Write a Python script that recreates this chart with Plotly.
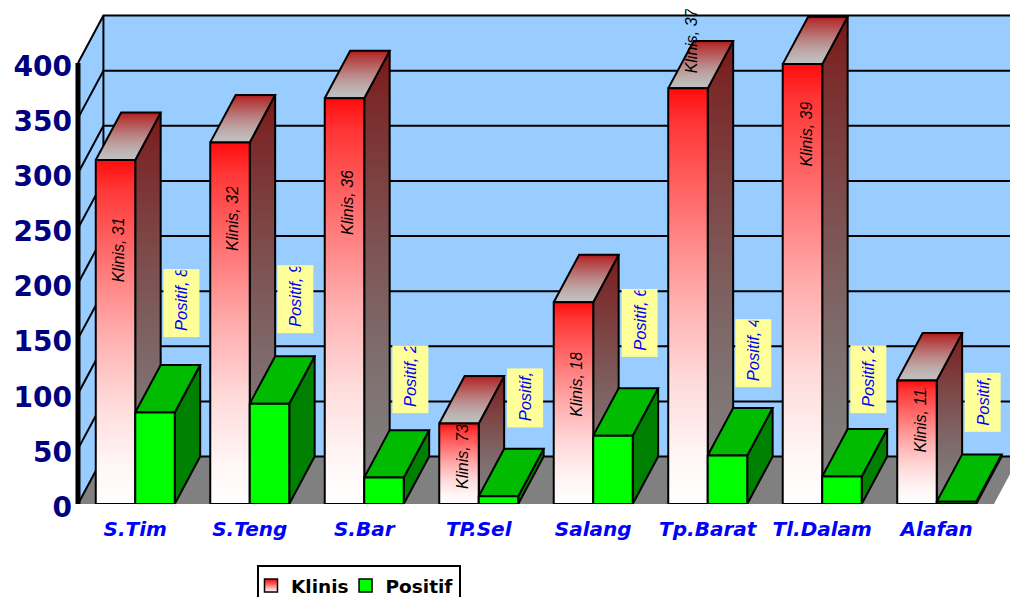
import plotly.graph_objects as go

# Data
categories = ["S.Tim", "S.Teng", "S.Bar", "TP.Sel", "Salang", "Tp.Barat", "Tl.Dalam", "Alafan"]
klinis = [312, 328, 368, 73, 183, 377, 399, 112]
positif = [83, 91, 24, 7, 62, 44, 25, 2]
y_ticks = [0, 50, 100, 150, 200, 250, 300, 350, 400]

# Where the rotated data labels sit, in axis units
klinis_label_at = [230, 259, 273, 43, 108, 420, 335, 76]
positif_label_at = [182, 186, 113, 96, 164, 137, 113, 92]

# Fake 3D depth, in axis units
DEPTH_X = 0.222
DEPTH_Y = 43
BAR_W = 0.345
X_MIN = -5 / 114.5
X_MAX = 8.14
Y_MAX = 457.14

# Shape of the Excel style fade: (height from the top, share of the lower colour)
FADE = [(0, 0), (0.08, 0.17), (0.31, 0.44), (0.5, 0.66), (0.71, 0.85), (0.88, 0.96), (1, 1)]


def fade(top_rgb, bottom_rgb):
    scale = []
    for t, f in reversed(FADE):
        rgb = [round(a + (b - a) * f) for a, b in zip(top_rgb, bottom_rgb)]
        scale.append([1 - t, f"rgb({rgb[0]},{rgb[1]},{rgb[2]})"])
    return scale


RED_FRONT = fade((255, 12, 12), (255, 255, 255))
RED_SIDE = fade((122, 20, 20), (128, 128, 128))
RED_TOP = fade((176, 22, 22), (192, 192, 192))


def poly(xs, ys, fill, line_width=2):
    trace = dict(x=xs + xs[:1], y=ys + ys[:1], mode="lines", fill="toself",
                 line=dict(color="black", width=line_width), cliponaxis=False,
                 showlegend=False, hoverinfo="skip")
    if isinstance(fill, list):
        trace["fillgradient"] = dict(type="vertical", colorscale=fill)
    else:
        trace["fillcolor"] = fill
    return go.Scatter(**trace)


def add_bar(fig, x0, value, front, side, top):
    x1 = x0 + BAR_W
    # side, then top, then the front face
    fig.add_trace(poly([x1, x1 + DEPTH_X, x1 + DEPTH_X, x1], [0, DEPTH_Y, value + DEPTH_Y, value], side))
    fig.add_trace(poly([x0, x1, x1 + DEPTH_X, x0 + DEPTH_X], [value, value, value + DEPTH_Y, value + DEPTH_Y], top))
    fig.add_trace(poly([x0, x1, x1, x0], [0, 0, value, value], front))


fig = go.Figure()

# Walls and floor
fig.add_trace(poly([DEPTH_X, 8 + DEPTH_X, 8 + DEPTH_X, DEPTH_X], [DEPTH_Y, DEPTH_Y, 400 + DEPTH_Y, 400 + DEPTH_Y], "#99CCFF", 0))
fig.add_trace(poly([0, DEPTH_X, DEPTH_X, 0], [0, DEPTH_Y, 400 + DEPTH_Y, 400], "#99CCFF", 0))
fig.add_trace(poly([0, 8, 8 + DEPTH_X, DEPTH_X], [0, 0, DEPTH_Y, DEPTH_Y], "#808080", 0))

# Gridlines run along the left wall and across the back wall
for v in y_ticks:
    fig.add_trace(go.Scatter(x=[0, DEPTH_X, 8 + DEPTH_X], y=[v, v + DEPTH_Y, v + DEPTH_Y], mode="lines",
                             line=dict(color="black", width=2), cliponaxis=False, showlegend=False, hoverinfo="skip"))
fig.add_trace(go.Scatter(x=[DEPTH_X, DEPTH_X], y=[DEPTH_Y, 400 + DEPTH_Y], mode="lines",
                         line=dict(color="black", width=2), cliponaxis=False, showlegend=False, hoverinfo="skip"))
fig.add_trace(go.Scatter(x=[0, 0], y=[0, 400], mode="lines",
                         line=dict(color="black", width=5), cliponaxis=False, showlegend=False, hoverinfo="skip"))

# Bars, back to front
for i in range(len(categories)):
    add_bar(fig, i + 0.5 - BAR_W, klinis[i], RED_FRONT, RED_SIDE, RED_TOP)
    add_bar(fig, i + 0.5, positif[i], "#00FF00", "#008000", "#00BB00")

# Legend entries only
fig.add_trace(go.Scatter(x=[None], y=[None], mode="markers", name="Klinis",
                         marker=dict(symbol="square", size=13, color="#FF0000",
                                     gradient=dict(type="vertical", color="#FFFFFF"),
                                     line=dict(color="black", width=1.5))))
fig.add_trace(go.Scatter(x=[None], y=[None], mode="markers", name="Positif",
                         marker=dict(symbol="square", size=13, color="#00FF00",
                                     line=dict(color="black", width=1.5))))

# Rotated data labels, clipped by their boxes
for i in range(len(categories)):
    fig.add_annotation(x=i + 0.5 - BAR_W / 2 + 0.03, y=klinis_label_at[i], text=f"Klinis, {klinis[i]}",
                       showarrow=False, textangle=-90, width=64, height=20, align="left",
                       font=dict(family="Liberation Sans", size=16, color="black", style="italic"))
    fig.add_annotation(x=i + 0.5 + BAR_W + DEPTH_X - 0.165, y=positif_label_at[i], text=f"\u00a0Positif, {positif[i]}",
                       showarrow=False, textangle=-90, width=65 if positif[i] >= 10 else 56, height=33, align="left",
                       bgcolor="#FFFF99",
                       font=dict(family="Liberation Sans", size=16.5, color="#0000FF", style="italic"))

fig.update_xaxes(range=[X_MIN, X_MAX], tickvals=[i + 0.5 for i in range(len(categories))], ticktext=categories,
                 showgrid=False, zeroline=False, showline=False, ticks="", ticklabelstandoff=11,
                 tickfont=dict(family="DejaVu Sans", size=20, color="#0000FF", weight="bold", style="italic"))
fig.update_yaxes(range=[0, Y_MAX], tickvals=y_ticks, showgrid=False, zeroline=False, showline=False, ticks="",
                 ticklabelshift=3,
                 tickfont=dict(family="DejaVu Sans", size=28, color="#000080", weight="bold"))

fig.update_layout(width=1010, height=597, margin=dict(l=73, r=0, t=0, b=93, autoexpand=False),
                  paper_bgcolor="white", plot_bgcolor="white", showlegend=True,
                  legend=dict(orientation="h", x=(257 - 73) / 937, y=-(565 - 504) / 504, xanchor="left", yanchor="top",
                              bordercolor="black", borderwidth=2, bgcolor="white", indentation=-8,
                              font=dict(family="DejaVu Sans", size=18.5, color="black", weight="bold")))

# the page body has a default margin that would push the chart off its place
fig.write_html("out.html", config={"displayModeBar": False}, post_script="document.body.style.margin='0';")
